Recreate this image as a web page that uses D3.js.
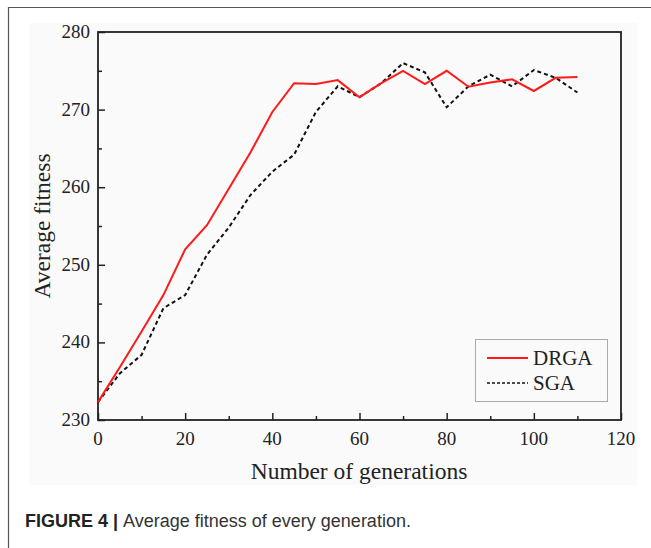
<!DOCTYPE html>
<html>
<head>
<meta charset="utf-8">
<script src="https://cdn.jsdelivr.net/npm/d3@7"></script>
<style>
  body { margin: 0; background: #fff; }
</style>
</head>
<body>
<div id="chart"></div>
<script>
// generations on the x axis
var generations = [0, 5, 10, 15, 20, 25, 30, 35, 40, 45, 50, 55, 60, 65, 70, 75, 80, 85, 90, 95, 100, 105, 110];
// average fitness per generation
var drga = [232.3, 236.8, 241.4, 246.1, 252.0, 255.1, 259.8, 264.5, 269.7, 273.4, 273.3, 273.8, 271.6, 273.4, 275.0, 273.3, 275.0, 272.95, 273.5, 273.9, 272.4, 274.1, 274.2];
var sga  = [232.3, 236.0, 238.4, 244.4, 246.1, 251.3, 254.8, 259.0, 262.0, 264.2, 269.7, 273.0, 271.6, 273.4, 276.0, 274.8, 270.3, 273.0, 274.5, 273.0, 275.1, 274.1, 272.2];
var xTicks = [0, 20, 40, 60, 80, 100, 120];
var yTicks = [230, 240, 250, 260, 270, 280];
var seriesNames = ["DRGA", "SGA"];

var W = 651, H = 548;
var plot = {left: 98, top: 32, right: 621, bottom: 420};

var svg = d3.select("#chart").append("svg")
    .attr("width", W)
    .attr("height", H);

// outer frame (only top and left visible)
svg.append("path")
    .attr("d", "M8.5," + H + "V7.5H" + W)
    .attr("fill", "none")
    .attr("stroke", "#555")
    .attr("stroke-width", 1.2);

// figure background panel
svg.append("rect")
    .attr("x", 29).attr("y", 23)
    .attr("width", 608).attr("height", 462)
    .attr("fill", "#fafafa");

var x = d3.scaleLinear().domain([0, 120]).range([plot.left, plot.right]);
var y = d3.scaleLinear().domain([230, 280]).range([plot.bottom, plot.top]);

var serif = "'Liberation Serif', 'Times New Roman', serif";

// inward ticks
var xAxis = svg.append("g")
    .attr("transform", "translate(0," + plot.bottom + ")")
    .call(d3.axisBottom(x).tickValues(d3.range(0, 121, 10)).tickSize(-7).tickFormat(""));
xAxis.selectAll(".tick line").attr("y2", function(d) { return d % 20 ? -4 : -7; });

var yAxis = svg.append("g")
    .attr("transform", "translate(" + plot.left + ",0)")
    .call(d3.axisLeft(y).tickValues(d3.range(230, 281, 5)).tickSize(-7).tickFormat(""));
yAxis.selectAll(".tick line").attr("x2", function(d) { return d % 10 ? 4 : 7; });

svg.selectAll(".domain").remove();
svg.selectAll(".tick line").attr("stroke", "#222").attr("stroke-width", 1.5);

// frame of the plot
svg.append("rect")
    .attr("x", plot.left).attr("y", plot.top)
    .attr("width", plot.right - plot.left).attr("height", plot.bottom - plot.top)
    .attr("fill", "none")
    .attr("stroke", "#222")
    .attr("stroke-width", 1.8);

// tick labels
svg.selectAll(".xlab")
    .data(xTicks).enter()
    .append("text")
    .attr("x", function(d) { return x(d); })
    .attr("y", 445)
    .attr("text-anchor", "middle")
    .style("font-family", serif)
    .style("font-size", "19px")
    .attr("fill", "#222")
    .text(function(d) { return d; });

svg.selectAll(".ylab")
    .data(yTicks).enter()
    .append("text")
    .attr("x", 90)
    .attr("y", function(d) { return y(d) + 6; })
    .attr("text-anchor", "end")
    .style("font-family", serif)
    .style("font-size", "19px")
    .attr("fill", "#222")
    .text(function(d) { return d; });

// axis titles
svg.append("text")
    .attr("x", 359)
    .attr("y", 479)
    .attr("text-anchor", "middle")
    .style("font-family", serif)
    .style("font-size", "23.5px")
    .attr("fill", "#222")
    .text("Number of generations");

svg.append("text")
    .attr("transform", "translate(50," + ((plot.top + plot.bottom) / 2) + ") rotate(-90)")
    .attr("text-anchor", "middle")
    .style("font-family", serif)
    .style("font-size", "23.5px")
    .attr("fill", "#222")
    .text("Average fitness");

// lines
var line = d3.line()
    .x(function(d, i) { return x(generations[i]); })
    .y(function(d) { return y(d); });

svg.append("path")
    .datum(sga)
    .attr("d", line)
    .attr("fill", "none")
    .attr("stroke", "#111")
    .attr("stroke-width", 2)
    .attr("stroke-dasharray", "4,3");

svg.append("path")
    .datum(drga)
    .attr("d", line)
    .attr("fill", "none")
    .attr("stroke", "#ff1a1a")
    .attr("stroke-width", 2);

// legend
var legend = svg.append("g");
legend.append("rect")
    .attr("x", 475.5).attr("y", 339.5)
    .attr("width", 132).attr("height", 62)
    .attr("fill", "none")
    .attr("stroke", "#aaa")
    .attr("stroke-width", 1);

var legY = [358, 383];
var legStyle = [
  {stroke: "#ff1a1a", dash: null, w: 2},
  {stroke: "#111", dash: "3,2", w: 1.5}
];
seriesNames.forEach(function(name, i) {
  legend.append("line")
      .attr("x1", 487).attr("x2", 528)
      .attr("y1", legY[i]).attr("y2", legY[i])
      .attr("stroke", legStyle[i].stroke)
      .attr("stroke-width", legStyle[i].w)
      .attr("stroke-dasharray", legStyle[i].dash);
  legend.append("text")
      .attr("x", 533)
      .attr("y", legY[i] + 7)
      .style("font-family", serif)
      .style("font-size", "21px")
      .attr("fill", "#222")
      .text(name);
});

// caption
var cap = svg.append("text")
    .attr("x", 25)
    .attr("y", 527)
    .style("font-family", "'Liberation Sans', Arial, sans-serif")
    .style("font-size", "18px")
    .attr("fill", "#222");
cap.append("tspan").style("font-weight", "bold").text("FIGURE 4 | ");
cap.append("tspan").attr("fill", "#333").text("Average fitness of every generation.");
</script>
</body>
</html>
